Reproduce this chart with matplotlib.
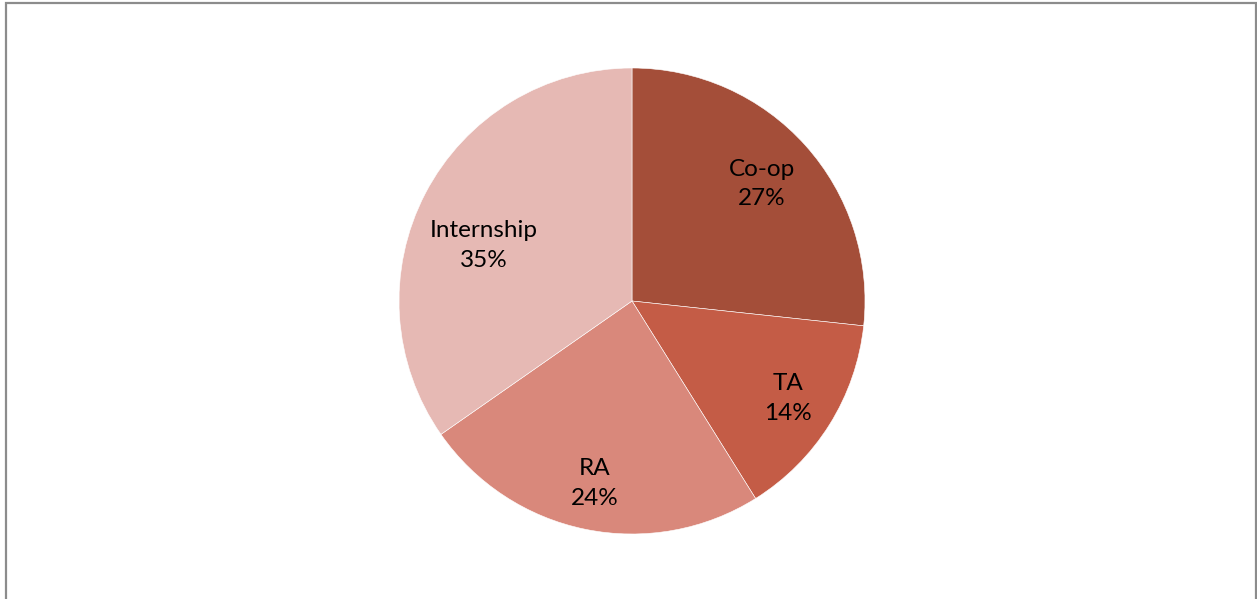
import matplotlib
matplotlib.use("Agg")
import matplotlib.pyplot as plt
import numpy as np
from matplotlib.patches import Rectangle

categories = ["Co-op", "TA", "RA", "Internship"]
values = [26.7, 14.4, 24.2, 34.7]
colors = ["#A44E39", "#C45C46", "#D9887B", "#E6B9B4"]
label_r = [0.75, 0.79, 0.80, 0.68]
label_shift_deg = [0, 0, 0, 7]

W, H = 1257, 599
fig = plt.figure(figsize=(W / 100, H / 100), dpi=100)
fig.patch.set_facecolor("white")

cx, cy, R = 632, 599 - 301, 233
ax = fig.add_axes([(cx - R) / W, (cy - R) / H, 2 * R / W, 2 * R / H])
wedges, _ = ax.pie(values, colors=colors, startangle=90, counterclock=False,
                   wedgeprops=dict(edgecolor="white", linewidth=0.4))
ax.set_xlim(-1, 1)
ax.set_ylim(-1, 1)
ax.set_aspect("equal")
ax.axis("off")

total = sum(values)
for w, cat, v, r, s in zip(wedges, categories, values, label_r, label_shift_deg):
    ang = np.deg2rad((w.theta1 + w.theta2) / 2 + s)
    ax.text(r * np.cos(ang), r * np.sin(ang), f"{cat}\n{round(v / total * 100)}%",
            ha="center", va="center", fontsize=17.5, family="Lato", color="black",
            linespacing=1.5)

border = Rectangle((6 / W, -0.05), (1256 - 6) / W, 1.05 - 2.5 / H,
                   transform=fig.transFigure, fill=False, edgecolor="#8C8C8C",
                   linewidth=1.6, clip_on=False)
fig.patches.append(border)

fig.savefig("out.png", dpi=100, facecolor="white")
